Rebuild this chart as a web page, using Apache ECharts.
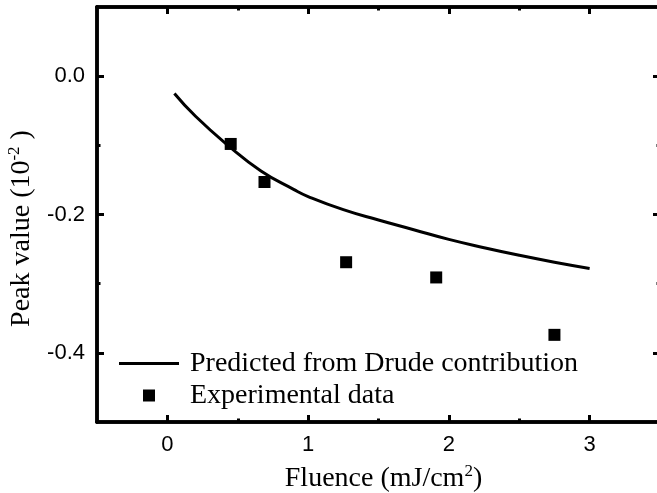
<!DOCTYPE html>
<html>
<head>
<meta charset="utf-8">
<script src="https://cdn.jsdelivr.net/npm/echarts@6/dist/echarts.min.js"></script>
<style>html,body{margin:0;padding:0;background:#fff}#c{width:657px;height:493px}</style>
</head>
<body>
<div id="c"></div>
<script>
// Data
const curveX = [0.05, 0.2, 0.43, 0.665, 0.9, 1.0, 1.25, 1.5, 1.75, 2.0, 2.25, 2.5, 2.75, 3.0];
const curveY = [-0.025, -0.058, -0.100, -0.137, -0.164, -0.174, -0.193, -0.208, -0.222, -0.236, -0.248, -0.259, -0.269, -0.278];
const expX = [0.45, 0.69, 1.27, 1.91, 2.75];
const expY = [-0.098, -0.153, -0.269, -0.291, -0.374];
const xMajor = [0, 1, 2, 3];
const xMinor = [0.5, 1.5, 2.5];
const yMajor = [-0.4, -0.2, 0];
const yMinor = [-0.3, -0.1];
const seriesNames = ['Predicted from Drude contribution', 'Experimental data'];

const serif = 'Liberation Serif';
const sans = 'Liberation Sans';
const line = { show: true, onZero: false, lineStyle: { color: '#000', width: 3.5, opacity: 1 } };

function xAx(pos, ticks, len, labels, extra) {
  return Object.assign({
    type: 'value', position: pos, min: -0.5, max: 3.5,
    axisLine: line, splitLine: { show: false },
    axisTick: { show: true, inside: true, length: len, customValues: ticks, lineStyle: { color: '#000', width: 3 } },
    axisLabel: labels ? { show: true, customValues: ticks, fontFamily: sans, fontSize: 22, color: '#000', margin: 12 } : { show: false }
  }, extra || {});
}
function yAx(pos, ticks, len, labels, extra) {
  return Object.assign({
    type: 'value', position: pos, min: -0.5, max: 0.1,
    axisLine: line, splitLine: { show: false },
    axisTick: { show: true, inside: true, length: len, customValues: ticks, lineStyle: { color: '#000', width: 3 } },
    axisLabel: labels ? { show: true, customValues: ticks, fontFamily: sans, fontSize: 22, color: '#000', margin: 12,
      formatter: v => v.toFixed(1) } : { show: false }
  }, extra || {});
}

const chart = echarts.init(document.getElementById('c'), null, { renderer: 'canvas' });
chart.setOption({
  animation: false,
  backgroundColor: '#fff',
  grid: { left: 97, top: 7, width: 563, height: 415, containLabel: false, outerBoundsMode: 'none' },
  xAxis: [
    xAx('bottom', xMajor, 7, true, {
      name: '{a|Fluence (mJ/cm}{s|2}{a|)}', nameLocation: 'middle', nameGap: 41,
      nameTextStyle: { color: '#000', padding: [0, 0, 0, 10], rich: {
        a: { fontFamily: serif, fontSize: 28, color: '#000', lineHeight: 31 },
        s: { fontFamily: serif, fontSize: 17, color: '#000', lineHeight: 17, verticalAlign: 'top' } } }
    }),
    xAx('top', xMajor, 7, false),
    xAx('bottom', xMinor, 3.5, false),
    xAx('top', xMinor, 3.5, false)
  ],
  yAxis: [
    yAx('left', yMajor, 7, true, {
      name: '{a|Peak value (10}{s|-2}{a| )}', nameLocation: 'middle', nameGap: 60,
      nameTextStyle: { color: '#000', padding: [0, 28, 0, 0], rich: {
        a: { fontFamily: serif, fontSize: 28, color: '#000', lineHeight: 31 },
        s: { fontFamily: serif, fontSize: 17, color: '#000', lineHeight: 17, verticalAlign: 'top' } } }
    }),
    yAx('right', yMajor, 7, false),
    yAx('left', yMinor, 3.5, false),
    yAx('right', yMinor, 3.5, false)
  ],
  legend: {
    orient: 'vertical', left: 119, top: 348, padding: 0,
    itemWidth: 60, itemHeight: 12, itemGap: 1, symbolKeepAspect: true,
    textStyle: { fontFamily: serif, fontSize: 28, color: '#000', lineHeight: 31, padding: [0, 0, 0, 6] },
    data: [
      { name: seriesNames[0], icon: 'path://M0,0L60,0L60,3L0,3Z' },
      { name: seriesNames[1], icon: 'path://M0,0L1,0L1,1L0,1Z' }
    ]
  },
  series: [
    {
      name: seriesNames[0], type: 'line', xAxisIndex: 0, yAxisIndex: 0,
      data: curveX.map((x, i) => [x, curveY[i]]),
      smooth: true, symbol: 'none', showSymbol: false,
      lineStyle: { color: '#000', width: 3 }, itemStyle: { color: '#000' }
    },
    {
      name: seriesNames[1], type: 'scatter', xAxisIndex: 0, yAxisIndex: 0,
      data: expX.map((x, i) => [x, expY[i]]),
      symbol: 'rect', symbolSize: 12, itemStyle: { color: '#000', opacity: 1 }
    }
  ]
});
</script>
</body>
</html>
